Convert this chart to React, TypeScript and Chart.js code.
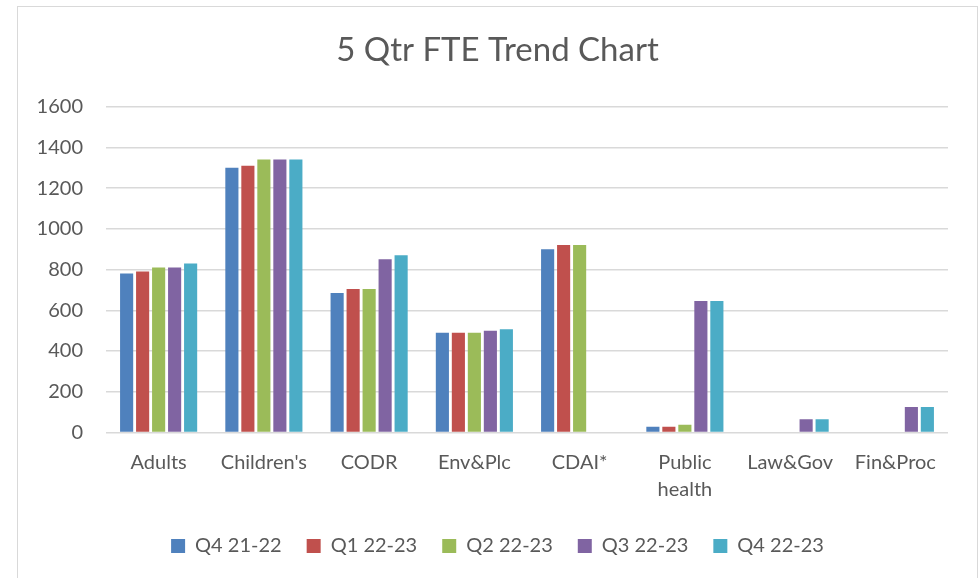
import React, { useEffect, useRef } from "react";
import { Chart, registerables } from "chart.js";

Chart.register(...registerables);

const categories: (string | string[])[] = [
  "Adults",
  "Children's",
  "CODR",
  "Env&Plc",
  "CDAI*",
  ["Public", "health"],
  "Law&Gov",
  "Fin&Proc",
];

const seriesNames = ["Q4 21-22", "Q1 22-23", "Q2 22-23", "Q3 22-23", "Q4 22-23"];
const seriesColors = ["#4F81BD", "#C0504D", "#9BBB59", "#8064A2", "#4BACC6"];

const q4_2122 = [780, 1300, 685, 490, 900, 28, null, null];
const q1_2223 = [790, 1310, 705, 490, 920, 28, null, null];
const q2_2223 = [810, 1340, 705, 490, 920, 38, null, null];
const q3_2223 = [810, 1340, 850, 500, null, 645, 65, 125];
const q4_2223 = [830, 1340, 870, 507, null, 645, 65, 125];

const seriesValues = [q4_2122, q1_2223, q2_2223, q3_2223, q4_2223];

const yTicks = [0, 200, 400, 600, 800, 1000, 1200, 1400, 1600];

const FONT = "Lato, 'Open Sans', sans-serif";
const TEXT = "#595959";

export default function App() {
  const ref = useRef<HTMLCanvasElement | null>(null);

  useEffect(() => {
    if (!ref.current) return;
    const chart = new Chart(ref.current, {
      type: "bar",
      data: {
        labels: categories,
        datasets: seriesNames.map((name, i) => ({
          label: name,
          data: seriesValues[i],
          backgroundColor: seriesColors[i],
          borderWidth: 0,
          categoryPercentage: 0.76,
          barPercentage: 0.82,
        })),
      },
      options: {
        animation: false,
        responsive: false,
        maintainAspectRatio: false,
        devicePixelRatio: 1,
        layout: { padding: { left: 0, right: 0, top: 0, bottom: 14 } },
        plugins: {
          title: {
            display: true,
            text: "5 Qtr FTE Trend Chart",
            color: TEXT,
            font: { family: FONT, size: 33, weight: "normal" },
            padding: { top: 24, bottom: 36 },
          },
          legend: {
            position: "bottom",
            labels: {
              color: TEXT,
              font: { family: FONT, size: 20 },
              boxWidth: 14,
              boxHeight: 14,
              padding: 25,
            },
          },
          tooltip: { enabled: false },
        },
        scales: {
          x: {
            grid: { display: false, drawTicks: false },
            border: { display: false },
            ticks: {
              color: TEXT,
              font: { family: FONT, size: 20, lineHeight: 1.35 },
              padding: 17,
              maxRotation: 0,
              autoSkip: false,
            },
            afterFit: (scale: any) => {
              scale.height -= 9.5;
            },
          },
          y: {
            min: 0,
            max: 1600,
            afterBuildTicks: (scale: any) => {
              scale.ticks = yTicks.map((v) => ({ value: v }));
            },
            grid: { color: "#d9d9d9", lineWidth: 1.5, drawTicks: false },
            border: { display: false },
            ticks: {
              color: TEXT,
              font: { family: FONT, size: 20 },
              padding: 23,
              callback: (v: any) => String(v),
            },
            afterFit: (scale: any) => {
              scale.width = 88;
            },
          },
          yRight: {
            position: "right",
            display: true,
            min: 0,
            max: 1600,
            grid: { display: false, drawTicks: false },
            border: { display: false },
            ticks: { display: false },
            afterFit: (scale: any) => {
              scale.width = 29;
            },
          },
        },
      },
    });
    return () => chart.destroy();
  }, []);

  return (
    <div
      style={{
        position: "fixed",
        left: 0,
        top: 0,
        width: 980,
        height: 578,
        overflow: "hidden",
        background: "#ffffff",
      }}
    >
      <div
        style={{
          position: "absolute",
          left: 17,
          top: 6,
          width: 961,
          height: 620,
          boxSizing: "border-box",
          border: "1px solid #d9d9d9",
        }}
      >
        <canvas
          ref={ref}
          width={959}
          height={573}
          style={{ position: "absolute", left: 0, top: 0, width: 959, height: 573 }}
        />
      </div>
    </div>
  );
}
